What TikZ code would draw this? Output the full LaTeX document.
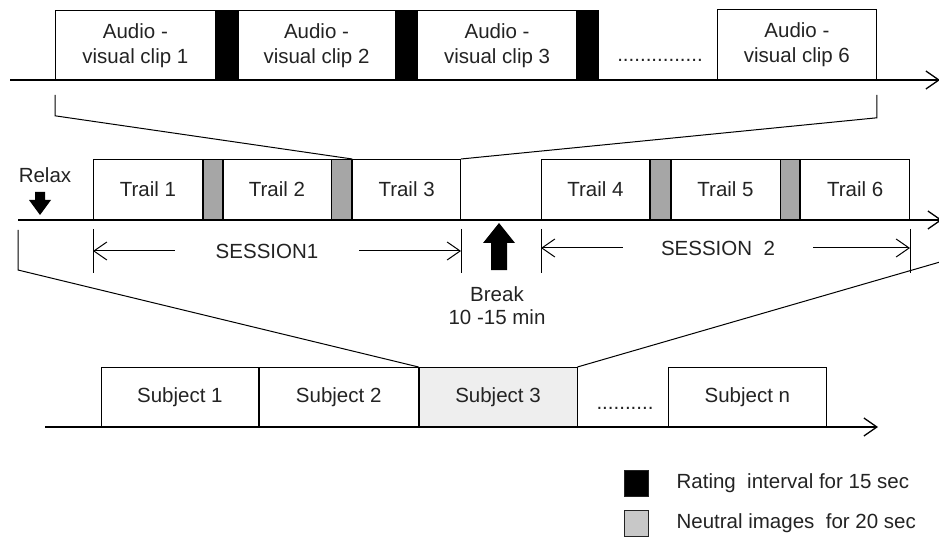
\documentclass[tikz,border=0pt]{standalone}
\usepackage{fontspec}
\setmainfont{Liberation Sans}
\usepackage{tikz}
\usetikzlibrary{positioning}
\usetikzlibrary{arrows.meta}
\usepackage{xcolor}

\definecolor{neutralgray}{RGB}{166,166,166}
\definecolor{legendgray}{RGB}{200,200,200}
\definecolor{subjgray}{RGB}{238,238,238}
\definecolor{inkgray}{RGB}{35,35,35}

\begin{document}
\begin{tikzpicture}[x=1pt, y=-1pt,
  >={Straight Barb[length=13pt,width=18pt]},
  timebox/.style={draw=black, line width=0.8pt, inner sep=0pt, anchor=north west, align=center, text=inkgray, font=\fontsize{20.5}{25}\selectfont},
  ratebar/.style={draw=black, fill=black, line width=0.8pt, inner sep=0pt, anchor=north west},
  neutralbar/.style={draw=black, fill=neutralgray, line width=0.8pt, inner sep=0pt, anchor=north west},
  tagtext/.style={text=inkgray, font=\fontsize{20.5}{23}\selectfont, align=center},
  axis/.style={line width=1.3pt},
  guide/.style={line width=1pt}]

\useasboundingbox (0,0) rectangle (939,537);

\begin{scope}{

% clips and rating intervals
{
\node[timebox, minimum width=160pt, minimum height=70pt] (clipA) at (55,10) {Audio -\\visual clip 1};
\node[ratebar, minimum width=21pt, minimum height=70pt, right=0pt of clipA] (rateA) {};
\node[timebox, minimum width=157pt, minimum height=70pt, right=0pt of rateA] (clipB) {Audio -\\visual clip 2};
\node[ratebar, minimum width=21pt, minimum height=70pt, right=0pt of clipB] (rateB) {};
\node[timebox, minimum width=159pt, minimum height=70pt, right=0pt of rateB] (clipC) {Audio -\\visual clip 3};
\node[ratebar, minimum width=21pt, minimum height=70pt, right=0pt of clipC] (rateC) {};
\node[tagtext, anchor=base] (dotsTop) at (660,62) {...............};
\node[timebox, minimum width=159pt, minimum height=71pt] (clipF) at (717,9) {Audio -\\visual clip 6};
}

% trails and neutral images
{
\node[timebox, minimum width=109pt, minimum height=60pt] (trailA) at (93,159) {Trail 1};
\node[neutralbar, minimum width=19pt, minimum height=60pt, right=0pt of trailA] (neutA) {};
\node[timebox, minimum width=108pt, minimum height=60pt, right=0pt of neutA] (trailB) {Trail 2};
\node[neutralbar, minimum width=20pt, minimum height=60pt, right=0pt of trailB] (neutB) {};
\node[timebox, minimum width=108pt, minimum height=60pt, right=0pt of neutB] (trailC) {Trail 3};

\node[timebox, minimum width=108pt, minimum height=60pt] (trailD) at (541,159) {Trail 4};
\node[neutralbar, minimum width=20pt, minimum height=60pt, right=0pt of trailD] (neutC) {};
\node[timebox, minimum width=109pt, minimum height=60pt, right=0pt of neutC] (trailE) {Trail 5};
\node[neutralbar, minimum width=19pt, minimum height=60pt, right=0pt of trailE] (neutD) {};
\node[timebox, minimum width=109pt, minimum height=60pt, right=0pt of neutD] (trailF) {Trail 6};
}

% subjects
{
\node[timebox, minimum width=157pt, minimum height=60pt] (subjA) at (101,367) {Subject 1};
\node[timebox, minimum width=159pt, minimum height=60pt, right=0pt of subjA] (subjB) {Subject 2};
\node[timebox, fill=subjgray, minimum width=158pt, minimum height=60pt, right=0pt of subjB] (subjC) {Subject 3};
\node[tagtext, anchor=base] (dotsBot) at (625,409) {..........};
\node[timebox, minimum width=158pt, minimum height=60pt] (subjN) at (668,367) {Subject n};
}

% time axes
{
\coordinate (topL) at (10,80);
\coordinate (topR) at (940,80);
\coordinate (midL) at (18,220);
\coordinate (midR) at (942,220);
\coordinate (botL) at (45,427);
\coordinate (botR) at (878,427);
\draw[axis,->] (topL) -- (topR);
\draw[axis,->] (midL) -- (midR);
\draw[axis,->] (botL) -- (botR);
}

% zoom brackets
{
\draw[guide] (clipA.south west) ++(0,14) --++(0,21) -- (trailC.north west);
\draw[guide] (clipF.south east) ++(0,14) --++(0,23) -- (trailC.north east);
\coordinate (fanR) at (940,262);
\draw[guide] (midL) ++(0,10) --++(0,40) -- (subjC.north west);
\draw[guide] (fanR) -- (subjC.north east);
}

% sessions
{
\foreach \t/\c in {trailA/south west, trailC/south east, trailD/south west, trailF/south east}
  \draw[guide] (\t.\c) ++(0,9) --++(0,44);

\node[tagtext, inner xsep=41pt] (sesA) at (267,251) {SESSION1};
\draw[guide,->] (sesA.west) -- (sesA.west -| trailA.south west);
\draw[guide,->] (sesA.east) -- (sesA.east -| trailC.south east);

\node[tagtext, inner xsep=38pt] (sesB) at (718,248) {SESSION\ \ 2};
\draw[guide,->] (sesB.west) -- (sesB.west -| trailD.south west);
\draw[guide,->] (sesB.east) -- (sesB.east -| trailF.south east);
}

% relax and break
{
\node[tagtext] (relax) at (45,175) {Relax};
\fill[black] (35,192)--++(10,0)--++(0,8)--++(6,0)--++(-11,15)--++(-11,-15)--++(6,0)--cycle;

\fill[black] (491,270)--++(16,0)--++(0,-27)--++(8,0)--++(-16,-20)--++(-16,20)--++(8,0)--cycle;
\node[tagtext] (brk) at (497,306) {Break\\10 -15 min};
}

% legend
{
\node[draw=inkgray, line width=0.8pt, fill=black, minimum width=24pt, minimum height=26pt, inner sep=0pt] (keyRate) at (636,483) {};
\node[tagtext, inner sep=0pt, right=28pt of keyRate] (keyRateText) {Rating\ \ interval for 15 sec};
\node[draw=inkgray, line width=0.8pt, fill=legendgray, minimum width=24pt, minimum height=26pt, inner sep=0pt] (keyNeut) at (636,523) {};
\node[tagtext, inner sep=0pt, right=28pt of keyNeut] (keyNeutText) {Neutral images\ \ for 20 sec};
}

} \end{scope}

\end{tikzpicture}
\end{document}
